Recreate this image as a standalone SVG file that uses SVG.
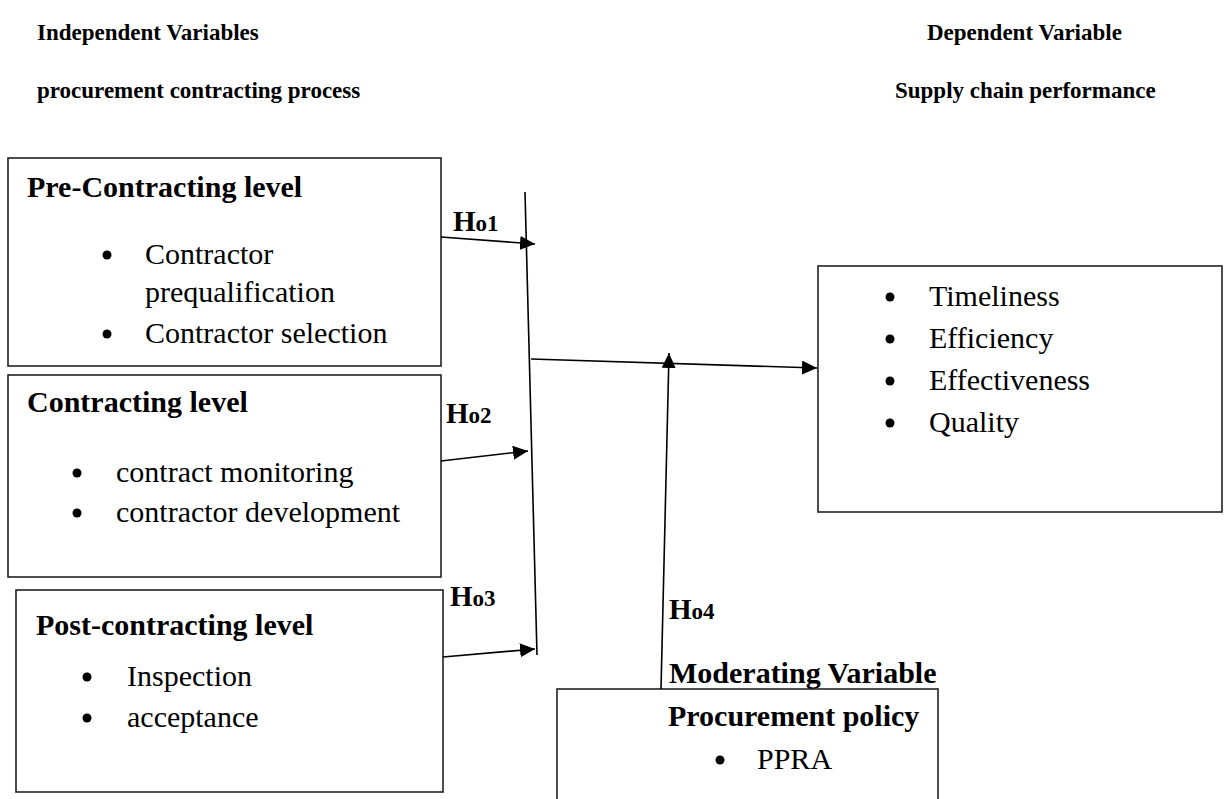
<svg xmlns="http://www.w3.org/2000/svg" width="1225" height="799" viewBox="0 0 1225 799">
<style>
text{font-family:"Liberation Serif","Times New Roman",serif;fill:#000}
.hd{font-size:23px;font-weight:bold}
.tt{font-size:30px;font-weight:bold}
.bt{font-size:30px}
.h{font-size:29px;font-weight:bold}
.hs{font-size:23px;font-weight:bold}
.box{fill:none;stroke:#222;stroke-width:1.6}
.ln{fill:none;stroke:#000;stroke-width:1.6}
.dot{fill:#000}
</style>
<defs>
<marker id="ah" viewBox="0 0 15 14" refX="15" refY="7" markerWidth="15" markerHeight="14" markerUnits="userSpaceOnUse" orient="auto">
<path d="M0,0 L15,7 L0,14 z" fill="#000"/>
</marker>
</defs>
<g id="headers">
<text class="hd" x="37" y="40">Independent Variables</text>
<text class="hd" x="37" y="98">procurement contracting process</text>
<text class="hd" x="927" y="40">Dependent Variable</text>
<text class="hd" x="895" y="98">Supply chain performance</text>
</g>
<g id="pre-contracting">
<rect class="box" x="8" y="158" width="433" height="208"/>
<text class="tt" x="27" y="197">Pre-Contracting level</text>
<circle class="dot" cx="107" cy="255" r="4.5"/>
<text class="bt" x="145" y="264">Contractor</text>
<text class="bt" x="145" y="302">prequalification</text>
<circle class="dot" cx="107" cy="334" r="4.5"/>
<text class="bt" x="145" y="343">Contractor selection</text>
</g>
<g id="contracting">
<rect class="box" x="8" y="375" width="433" height="202"/>
<text class="tt" x="27" y="412">Contracting level</text>
<circle class="dot" cx="77" cy="473" r="4.5"/>
<text class="bt" x="116" y="482">contract monitoring</text>
<circle class="dot" cx="77" cy="513" r="4.5"/>
<text class="bt" x="116" y="522">contractor development</text>
</g>
<g id="post-contracting">
<rect class="box" x="16" y="590" width="427" height="202"/>
<text class="tt" x="36" y="635">Post-contracting level</text>
<circle class="dot" cx="87" cy="677" r="4.5"/>
<text class="bt" x="127" y="686">Inspection</text>
<circle class="dot" cx="87" cy="718" r="4.5"/>
<text class="bt" x="127" y="727">acceptance</text>
</g>
<g id="performance">
<rect class="box" x="818" y="266" width="404" height="246"/>
<circle class="dot" cx="890" cy="297" r="4.5"/>
<text class="bt" x="929" y="306">Timeliness</text>
<circle class="dot" cx="890" cy="339" r="4.5"/>
<text class="bt" x="929" y="348">Efficiency</text>
<circle class="dot" cx="890" cy="381" r="4.5"/>
<text class="bt" x="929" y="390">Effectiveness</text>
<circle class="dot" cx="890" cy="423" r="4.5"/>
<text class="bt" x="929" y="432">Quality</text>
</g>
<g id="moderator">
<text class="tt" x="669" y="683">Moderating Variable</text>
<rect class="box" x="557" y="689" width="381" height="130"/>
<text class="tt" x="668" y="726">Procurement policy</text>
<circle class="dot" cx="720" cy="760" r="4.5"/>
<text class="bt" x="757" y="769">PPRA</text>
</g>
<g id="connectors">
<line class="ln" x1="525" y1="192" x2="537" y2="655"/>
<line class="ln" x1="441" y1="237" x2="535" y2="244" marker-end="url(#ah)"/>
<line class="ln" x1="441" y1="461" x2="528" y2="451" marker-end="url(#ah)"/>
<line class="ln" x1="443" y1="657" x2="535" y2="649" marker-end="url(#ah)"/>
<line class="ln" x1="531" y1="359" x2="817" y2="368" marker-end="url(#ah)"/>
<line class="ln" x1="661" y1="689" x2="669" y2="353" marker-end="url(#ah)"/>
</g>
<g id="labels">
<text x="453" y="231"><tspan class="h">H</tspan><tspan class="hs">o1</tspan></text>
<text x="446" y="423"><tspan class="h">H</tspan><tspan class="hs">o2</tspan></text>
<text x="450" y="606"><tspan class="h">H</tspan><tspan class="hs">o3</tspan></text>
<text x="669" y="619"><tspan class="h">H</tspan><tspan class="hs">o4</tspan></text>
</g>
</svg>
